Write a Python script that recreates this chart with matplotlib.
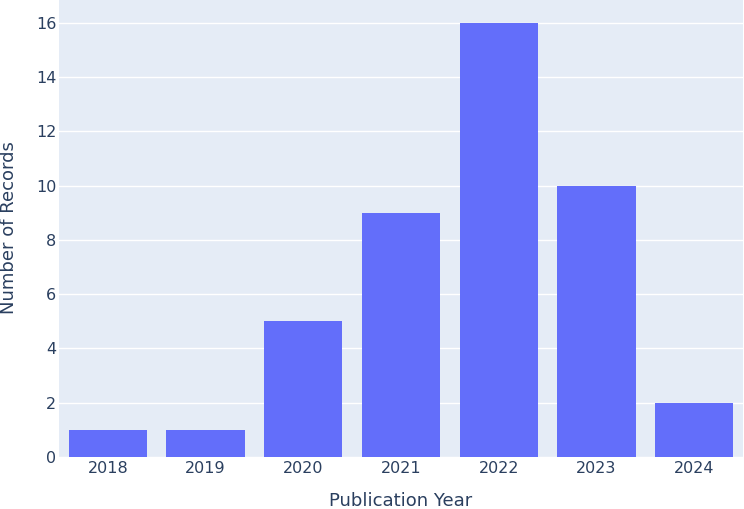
import matplotlib
matplotlib.use('Agg')
import matplotlib.pyplot as plt

years = ['2018', '2019', '2020', '2021', '2022', '2023', '2024']
records = [1, 1, 5, 9, 16, 10, 2]

txt = '#2a3f5f'
fig = plt.figure(figsize=(7.44, 5.09), dpi=100)
ax = fig.add_axes([59/744, 52/509, 684/744, 457/509])
ax.set_facecolor('#E5ECF6')
ax.bar(range(len(years)), records, width=0.8, color='#636efa', zorder=3)
ax.set_xlim(-0.5, len(years) - 0.5)
ax.set_ylim(0, 16 * 1.0526)
ax.set_yticks(range(0, 17, 2))
ax.set_xticks(range(len(years)))
ax.set_xticklabels(years)
ax.grid(axis='y', color='white', lw=1, zorder=0)
for s in ax.spines.values():
    s.set_visible(False)
ax.tick_params(length=0, labelsize=11.5, colors=txt)
ax.tick_params(axis='x', pad=3)
ax.tick_params(axis='y', pad=2)
fig.text(401/744, 1 - 501/509, 'Publication Year', fontsize=13, color=txt,
         ha='center', va='center')
fig.text(9/744, 1 - 228/509, 'Number of Records', fontsize=13, color=txt,
         ha='center', va='center', rotation=90)
fig.savefig('out.png', dpi=100)
